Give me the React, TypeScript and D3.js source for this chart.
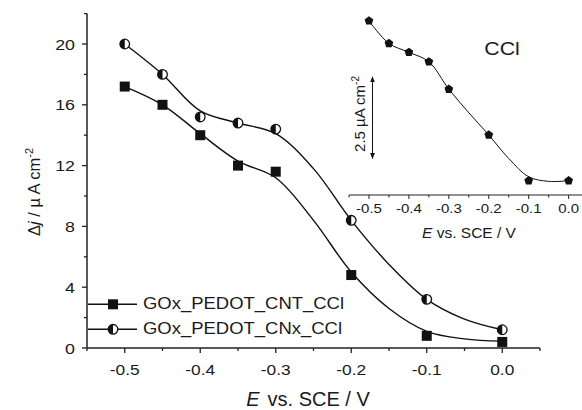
import React from "react";
import * as d3 from "d3";

// main panel: measured points
const potentials = [-0.5, -0.45, -0.4, -0.35, -0.3, -0.2, -0.1, 0.0];
const cntValues = [17.2, 16.0, 14.0, 12.0, 11.6, 4.8, 0.8, 0.4];
const cnxValues = [20.0, 18.0, 15.2, 14.8, 14.4, 8.4, 3.2, 1.2];

// fitted curves
const fitPotentials = [-0.5, -0.45, -0.4, -0.35, -0.3, -0.25, -0.2, -0.15, -0.1, -0.05, 0.0];
const cntFit = [17.2, 16.0, 14.1, 12.3, 11.2, 8.4, 5.0, 2.6, 1.1, 0.6, 0.45];
const cnxFit = [20.0, 18.0, 15.6, 14.8, 14.1, 11.8, 8.4, 5.5, 3.2, 1.9, 1.2];

// inset (CCl), values in uA cm-2 relative to lowest point
const insetPotentials = [-0.5, -0.45, -0.4, -0.35, -0.3, -0.2, -0.1, 0.0];
const insetValues = [4.89, 4.2, 3.93, 3.64, 2.8, 1.4, 0.0, 0.0];
const insetFitPot = [-0.5, -0.45, -0.4, -0.35, -0.3, -0.25, -0.2, -0.15, -0.1, -0.05, 0.0];
const insetFit = [4.89, 4.2, 3.93, 3.64, 2.8, 2.08, 1.4, 0.68, 0.12, -0.02, 0.0];

const xTicks = [-0.5, -0.4, -0.3, -0.2, -0.1, 0.0];
const xMinor = [-0.55, -0.45, -0.35, -0.25, -0.15, -0.05, 0.05];
const yTicks = [0, 4, 8, 12, 16, 20];
const yMinor = [2, 6, 10, 14, 18, 22];

const FONT = "'Liberation Sans', Arial, sans-serif";
const AX = "#222";
const TXT = "#1a1a1a";

// text stretched horizontally like the source figure
const ST = ({
  x, y, size, sx = 1, anchor = "start", children,
}: { x: number; y: number; size: number; sx?: number; anchor?: string; children: React.ReactNode }) => (
  <g transform={`translate(${x},${y}) scale(${sx},1)`}>
    <text fontSize={size} textAnchor={anchor as any} fill={TXT}>
      {children}
    </text>
  </g>
);

const Square = ({ x, y }: { x: number; y: number }) => (
  <rect x={x - 5} y={y - 5} width={10} height={10} fill="#111" />
);

const HalfCircle = ({ x, y }: { x: number; y: number }) => (
  <g>
    <circle cx={x} cy={y} r={4.8} fill="#fff" stroke="#111" strokeWidth={1.3} />
    <path d={`M${x},${y - 4.8} A4.8,4.8 0 0 0 ${x},${y + 4.8} Z`} fill="#111" />
  </g>
);

const Pentagon = ({ x, y }: { x: number; y: number }) => {
  const r = 4.6;
  const pts = d3.range(5).map((i) => {
    const a = -Math.PI / 2 + (i * 2 * Math.PI) / 5;
    return `${x + r * Math.cos(a)},${y + r * Math.sin(a)}`;
  });
  return <polygon points={pts.join(" ")} fill="#111" />;
};

const fmt = (v: number) => (Math.abs(v) < 1e-9 ? "0.0" : v.toFixed(1));

export default function App() {
  const width = 582;
  const height = 410;

  const x = d3.scaleLinear().domain([-0.55, 0.05]).range([87, 540]);
  const y = d3.scaleLinear().domain([0, 22]).range([348, 13.6]);

  const xi = d3.scaleLinear().domain([-0.55, 0.05]).range([349, 588.6]);
  const yi = d3.scaleLinear().domain([0, 2.5]).range([180.7, 99]);

  const line = d3
    .line<[number, number]>()
    .x((d) => x(d[0]))
    .y((d) => y(d[1]))
    .curve(d3.curveCatmullRom.alpha(0.5));
  const insetLine = d3
    .line<[number, number]>()
    .x((d) => xi(d[0]))
    .y((d) => yi(d[1]))
    .curve(d3.curveCatmullRom.alpha(0.5));

  const cntPath = line(fitPotentials.map((p, i) => [p, cntFit[i]]) as [number, number][]);
  const cnxPath = line(fitPotentials.map((p, i) => [p, cnxFit[i]]) as [number, number][]);
  const insetPath = insetLine(insetFitPot.map((p, i) => [p, insetFit[i]]) as [number, number][]);

  const [y0] = y.range();
  const insetAxisY = 195;

  return (
    <svg
      width={width}
      height={height}
      style={{ position: "absolute", left: 0, top: 0, background: "#fff" }}
      fontFamily={FONT}
    >
      {/* main axes */}
      <line x1={x.range()[0]} x2={x.range()[1]} y1={y0} y2={y0} stroke={AX} strokeWidth={1.5} />
      <line x1={x.range()[0]} x2={x.range()[0]} y1={y0} y2={y.range()[1]} stroke={AX} strokeWidth={1.5} />
      {xTicks.map((t) => (
        <g key={"xt" + t}>
          <line x1={x(t)} x2={x(t)} y1={y0} y2={y0 + 5} stroke={AX} strokeWidth={1.3} />
          <ST x={x(t)} y={375} size={15.5} sx={1.12} anchor="middle">
            {fmt(t)}
          </ST>
        </g>
      ))}
      {xMinor.map((t) => (
        <line key={"xm" + t} x1={x(t)} x2={x(t)} y1={y0} y2={y0 + 3} stroke={AX} strokeWidth={1.3} />
      ))}
      {yTicks.map((t) => (
        <g key={"yt" + t}>
          <line x1={x.range()[0] - 5} x2={x.range()[0]} y1={y(t)} y2={y(t)} stroke={AX} strokeWidth={1.3} />
          <ST x={75} y={y(t) + 5.6} size={15.5} sx={1.15} anchor="end">
            {t}
          </ST>
        </g>
      ))}
      {yMinor.map((t) => (
        <line key={"ym" + t} x1={x.range()[0] - 3} x2={x.range()[0]} y1={y(t)} y2={y(t)} stroke={AX} strokeWidth={1.3} />
      ))}

      {/* axis titles */}
      <text x={308} y={406} fontSize={20} textAnchor="middle" fill={TXT}>
        <tspan fontStyle="italic">E</tspan>
        <tspan dx={8}>vs. SCE / V</tspan>
      </text>
      <text transform="translate(40,192) rotate(-90)" fontSize={16.5} textAnchor="middle" fill={TXT}>
        <tspan>Δ</tspan>
        <tspan fontStyle="italic">j</tspan>
        <tspan> / µ A cm</tspan>
        <tspan dy={-7} fontSize={11}>-2</tspan>
      </text>

      {/* fitted curves */}
      <path d={cntPath ?? ""} fill="none" stroke="#111" strokeWidth={1.4} />
      <path d={cnxPath ?? ""} fill="none" stroke="#111" strokeWidth={1.4} />

      {/* points */}
      {potentials.map((p, i) => (
        <Square key={"s" + i} x={x(p)} y={y(cntValues[i])} />
      ))}
      {potentials.map((p, i) => (
        <HalfCircle key={"c" + i} x={x(p)} y={y(cnxValues[i])} />
      ))}

      {/* legend */}
      <line x1={88} x2={137} y1={304.3} y2={304.3} stroke="#111" strokeWidth={1.4} />
      <Square x={113} y={304.3} />
      <ST x={143} y={308.8} size={16.5} sx={1.12}>GOx_PEDOT_CNT_CCl</ST>
      <line x1={88} x2={137} y1={329.3} y2={329.3} stroke="#111" strokeWidth={1.4} />
      <HalfCircle x={113} y={329.3} />
      <ST x={143} y={333.5} size={16.5} sx={1.12}>GOx_PEDOT_CNx_CCl</ST>

      {/* inset */}
      <line x1={xi.range()[0]} x2={width} y1={insetAxisY} y2={insetAxisY} stroke={AX} strokeWidth={1.2} />
      {xTicks.map((t) => (
        <g key={"it" + t}>
          <line x1={xi(t)} x2={xi(t)} y1={insetAxisY} y2={insetAxisY + 4} stroke={AX} strokeWidth={1} />
          <ST x={xi(t)} y={213} size={12.5} sx={1.2} anchor="middle">
            {fmt(t)}
          </ST>
        </g>
      ))}
      {xMinor.map((t) => (
        <line key={"im" + t} x1={xi(t)} x2={xi(t)} y1={insetAxisY} y2={insetAxisY + 2.5} stroke={AX} strokeWidth={1} />
      ))}
      <text x={469} y={238} fontSize={15.5} textAnchor="middle" fill={TXT}>
        <tspan fontStyle="italic">E</tspan>
        <tspan> vs. SCE / V</tspan>
      </text>
      <path d={insetPath ?? ""} fill="none" stroke="#111" strokeWidth={1} />
      {insetPotentials.map((p, i) => (
        <Pentagon key={"p" + i} x={xi(p)} y={yi(insetValues[i])} />
      ))}
      <ST x={502} y={55} size={18.5} sx={1.15} anchor="middle">CCl</ST>

      {/* scale bar */}
      <defs>
        <marker id="arr" viewBox="0 0 10 10" refX={9} refY={5} markerWidth={6} markerHeight={6} orient="auto-start-reverse">
          <path d="M0,1 L10,5 L0,9 Z" fill="#111" />
        </marker>
      </defs>
      <line
        x1={372.5}
        x2={372.5}
        y1={yi(0)}
        y2={yi(2.5)}
        stroke="#111"
        strokeWidth={1}
        markerStart="url(#arr)"
        markerEnd="url(#arr)"
        transform={`translate(0,${158.5 - yi(0)})`}
      />
      <text transform="translate(365,114) rotate(-90)" fontSize={15} textAnchor="middle" fill={TXT}>
        <tspan>2.5 µA cm</tspan>
        <tspan dy={-6} fontSize={10}>-2</tspan>
      </text>
    </svg>
  );
}
